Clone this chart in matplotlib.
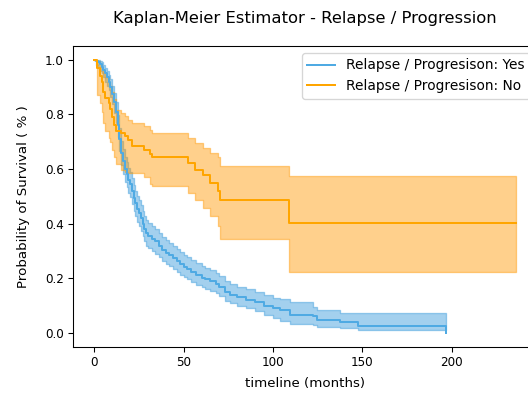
import matplotlib
matplotlib.use("Agg")
import matplotlib.pyplot as plt

# Kaplan-Meier survival estimates (months) with 95% confidence bounds
yes_time = [0, 1, 2, 3, 4, 5, 6, 7, 8, 9, 10, 11, 12, 13, 14, 15, 16, 17, 18, 19,
            20, 21, 22, 23, 24, 25, 26, 27, 28, 29, 30, 32, 34, 36, 38, 40, 42, 44,
            46, 48, 50, 52, 54, 57, 60, 62, 65, 68, 70, 73, 76, 80, 85, 90, 95, 100,
            104, 109.6, 122.6, 124.5, 137.6, 147.8, 196.7]
yes_surv = [1.000, 0.995, 0.990, 0.985, 0.975, 0.962, 0.950, 0.935, 0.920, 0.900,
            0.875, 0.845, 0.810, 0.760, 0.710, 0.660, 0.630, 0.600, 0.580, 0.560,
            0.545, 0.520, 0.495, 0.475, 0.455, 0.440, 0.420, 0.400, 0.380, 0.365,
            0.355, 0.345, 0.335, 0.320, 0.305, 0.293, 0.285, 0.275, 0.263, 0.252,
            0.243, 0.233, 0.225, 0.213, 0.203, 0.197, 0.189, 0.178, 0.168, 0.150,
            0.140, 0.131, 0.122, 0.112, 0.100, 0.092, 0.085, 0.067, 0.061, 0.049,
            0.039, 0.027, 0.000]
yes_lower = [1.000, 0.980, 0.970, 0.960, 0.950, 0.935, 0.920, 0.905, 0.888, 0.865,
             0.838, 0.806, 0.769, 0.717, 0.665, 0.614, 0.583, 0.553, 0.533, 0.512,
             0.497, 0.472, 0.447, 0.427, 0.408, 0.393, 0.374, 0.354, 0.335, 0.320,
             0.310, 0.301, 0.291, 0.277, 0.263, 0.252, 0.244, 0.235, 0.224, 0.214,
             0.205, 0.196, 0.188, 0.177, 0.168, 0.162, 0.155, 0.145, 0.136, 0.119,
             0.110, 0.100, 0.090, 0.080, 0.066, 0.056, 0.045, 0.032, 0.028, 0.024,
             0.018, 0.012, 0.012]
yes_upper = [1.000, 1.000, 0.998, 0.995, 0.990, 0.980, 0.970, 0.958, 0.945, 0.928,
             0.905, 0.878, 0.845, 0.798, 0.750, 0.702, 0.673, 0.644, 0.625, 0.605,
             0.590, 0.566, 0.541, 0.521, 0.502, 0.487, 0.467, 0.447, 0.427, 0.412,
             0.402, 0.392, 0.381, 0.366, 0.351, 0.339, 0.330, 0.320, 0.308, 0.296,
             0.287, 0.277, 0.268, 0.256, 0.245, 0.239, 0.231, 0.219, 0.209, 0.190,
             0.180, 0.170, 0.161, 0.150, 0.138, 0.130, 0.124, 0.112, 0.097, 0.085,
             0.073, 0.073, 0.073]

no_time = [0, 1.5, 3, 4, 5, 6, 8, 9, 10, 11, 12, 15, 17, 19, 21, 28, 31, 32,
           52.7, 56.4, 60.7, 64.8, 69.5, 70.4, 109.2, 236]
no_surv = [1.0, 0.97, 0.94, 0.92, 0.88, 0.86, 0.84, 0.82, 0.79, 0.76, 0.74, 0.73,
           0.72, 0.707, 0.683, 0.671, 0.655, 0.644, 0.622, 0.598, 0.579, 0.549,
           0.518, 0.488, 0.402, 0.402]
no_lower = [1.0, 0.87, 0.84, 0.81, 0.77, 0.74, 0.715, 0.70, 0.67, 0.645, 0.62,
            0.595, 0.59, 0.585, 0.585, 0.57, 0.545, 0.537, 0.512, 0.488, 0.457,
            0.427, 0.39, 0.344, 0.223, 0.223]
no_upper = [1.0, 0.995, 0.985, 0.97, 0.95, 0.935, 0.92, 0.905, 0.88, 0.855, 0.815,
            0.805, 0.793, 0.78, 0.768, 0.756, 0.744, 0.732, 0.713, 0.695, 0.677,
            0.659, 0.645, 0.61, 0.576, 0.576]

labels = ["Relapse / Progresison: Yes", "Relapse / Progresison: No"]
line_colors = ["#4FAAE3", "#FFA500"]
band_colors = ["#3498DB", "#FF9800"]

plt.rcParams["xtick.labelsize"] = 9
plt.rcParams["ytick.labelsize"] = 9

fig = plt.figure(figsize=(528 / 96, 399 / 96), dpi=96)
ax = fig.add_axes([0.1388, 0.131, 0.878, 0.7537])

groups = [
    (yes_time, yes_surv, yes_lower, yes_upper),
    (no_time, no_surv, no_lower, no_upper),
]
for (t, s, lo, hi), lab, lc, bc in zip(groups, labels, line_colors, band_colors):
    ax.fill_between(t, lo, hi, step="post", color=bc, alpha=0.45, linewidth=1.0)
    ax.step(t, s, where="post", color=lc, linewidth=1.5, label=lab)

ax.set_title("Kaplan-Meier Estimator - Relapse / Progression", fontsize=12.3, pad=17)
ax.set_xlabel("timeline (months)", fontsize=10, labelpad=6)
ax.set_ylabel("Probability of Survival ( % )", fontsize=10, labelpad=11)
ax.legend(loc="upper right", fontsize=10.3)

fig.savefig("out.png", dpi=96)
